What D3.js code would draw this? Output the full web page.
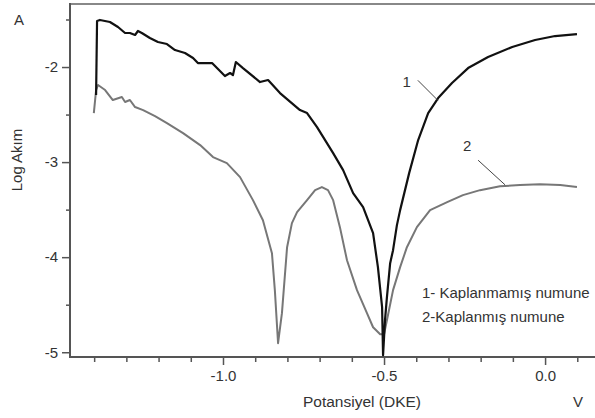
<!DOCTYPE html>
<html><head><meta charset="utf-8">
<script src="https://cdn.jsdelivr.net/npm/d3@7"></script>
<style>
html,body{margin:0;padding:0;background:#fff;}
svg{display:block;font-family:"Liberation Sans",Arial,sans-serif;}
</style></head>
<body>
<svg id="c" width="595" height="418"></svg>
<script>
// Potential (V vs DKE) and log current values
const curve1 = [
[-1.394,-2.295],[-1.391,-1.516],[-1.382,-1.505],[-1.351,-1.526],[-1.326,-1.579],[-1.304,-1.642],
[-1.289,-1.642],[-1.273,-1.663],[-1.264,-1.621],[-1.252,-1.642],[-1.227,-1.695],[-1.202,-1.737],
[-1.174,-1.758],[-1.149,-1.821],[-1.118,-1.853],[-1.093,-1.905],[-1.078,-1.958],[-1.034,-1.958],
[-0.994,-2.095],[-0.978,-2.063],[-0.969,-2.084],[-0.960,-1.947],[-0.938,-2.011],[-0.885,-2.158],
[-0.860,-2.137],[-0.823,-2.274],[-0.761,-2.453],[-0.739,-2.484],[-0.708,-2.632],[-0.658,-2.905],
[-0.627,-3.084],[-0.596,-3.326],[-0.565,-3.474],[-0.534,-3.747],[-0.519,-4.105],[-0.506,-4.526],
[-0.503,-5.032],[-0.497,-4.663],[-0.491,-4.421],[-0.481,-4.063],[-0.472,-3.926],[-0.460,-3.663],
[-0.450,-3.505],[-0.422,-3.116],[-0.394,-2.768],[-0.363,-2.484],[-0.332,-2.326],[-0.289,-2.168],
[-0.239,-2.011],[-0.177,-1.895],[-0.102,-1.789],[-0.031,-1.716],[0.031,-1.674],[0.099,-1.653]
];
const curve2 = [
[-1.401,-2.484],[-1.394,-2.242],[-1.388,-2.189],[-1.366,-2.242],[-1.342,-2.347],[-1.314,-2.316],
[-1.304,-2.368],[-1.289,-2.347],[-1.273,-2.421],[-1.248,-2.453],[-1.211,-2.516],[-1.174,-2.589],
[-1.124,-2.695],[-1.071,-2.821],[-1.031,-2.947],[-0.988,-3.011],[-0.947,-3.158],[-0.907,-3.400],
[-0.876,-3.611],[-0.848,-3.958],[-0.839,-4.347],[-0.829,-4.905],[-0.817,-4.589],[-0.801,-3.895],
[-0.786,-3.642],[-0.770,-3.526],[-0.739,-3.400],[-0.714,-3.295],[-0.693,-3.263],[-0.674,-3.295],
[-0.658,-3.400],[-0.637,-3.684],[-0.615,-4.032],[-0.584,-4.347],[-0.553,-4.589],[-0.534,-4.737],
[-0.512,-4.811],[-0.500,-4.811],[-0.491,-4.663],[-0.472,-4.347],[-0.450,-4.105],[-0.429,-3.895],
[-0.398,-3.684],[-0.357,-3.505],[-0.304,-3.421],[-0.255,-3.347],[-0.202,-3.295],[-0.140,-3.253],
[-0.078,-3.242],[-0.016,-3.232],[0.047,-3.242],[0.099,-3.263]
];
const xMajorTicks = [-1.0,-0.5,0.0];
const xMinorTicks = [-1.4,-1.3,-1.2,-1.1,-0.9,-0.8,-0.7,-0.6,-0.4,-0.3,-0.2,-0.1,0.1];
const yMajorTicks = [-2,-3,-4,-5];
const yMinorTicks = [-1.5,-2.5,-3.5,-4.5];
const legendLabels = ["1- Kaplanmamış numune","2-Kaplanmış numune"];
const curveLabels = ["1","2"];
const xTitle = "Potansiyel (DKE)", xUnit = "V", yTitle = "Log Akım", yUnit = "A";

const svg = d3.select("#c");
const x = d3.scaleLinear().domain([-1.475,0.155]).range([70,595]);
const y = d3.scaleLinear().domain([-5.05,-1.337]).range([357,4]);
const axisColor = "#555", textColor = "#333", fs = "15px";
const minus = s => s.replace("\u2212","-");

// top border
svg.append("line").attr("x1",70).attr("x2",595).attr("y1",y(-1.337)).attr("y2",y(-1.337))
  .attr("stroke","#888").attr("stroke-width",2);

function styleAxis(g){
  g.select(".domain").remove();
  g.selectAll("line").attr("stroke",axisColor).attr("stroke-width",1.5);
  g.selectAll("text").attr("fill",textColor).style("font-size",fs).style("font-family","Liberation Sans, Arial, sans-serif");
}
const gx = svg.append("g").attr("transform","translate(0,357)");
gx.append("g").call(d3.axisBottom(x).tickValues(xMinorTicks).tickSize(5).tickFormat(()=>"")).call(styleAxis);
gx.append("g").call(d3.axisBottom(x).tickValues(xMajorTicks).tickSize(8).tickPadding(5).tickFormat(d=>minus(d3.format(".1f")(d)))).call(styleAxis);
const gy = svg.append("g").attr("transform","translate(70,0)");
gy.append("g").call(d3.axisLeft(y).tickValues(yMinorTicks).tickSize(4).tickFormat(()=>"")).call(styleAxis);
gy.append("g").call(d3.axisLeft(y).tickValues(yMajorTicks).tickSize(8).tickPadding(4).tickFormat(d=>minus(String(d)))).call(styleAxis);

// axis lines
svg.append("line").attr("x1",70).attr("x2",595).attr("y1",357).attr("y2",357).attr("stroke",axisColor).attr("stroke-width",2);
svg.append("line").attr("x1",70).attr("x2",70).attr("y1",y(-1.337)-1).attr("y2",358).attr("stroke",axisColor).attr("stroke-width",2);

const line = d3.line().x(d=>x(d[0])).y(d=>y(d[1]));
svg.append("path").datum(curve2).attr("d",line).attr("fill","none").attr("stroke","#777").attr("stroke-width",2).attr("stroke-linejoin","round");
svg.append("path").datum(curve1).attr("d",line).attr("fill","none").attr("stroke","#111").attr("stroke-width",2.2).attr("stroke-linejoin","round");

// curve annotations
const ann = [
  {t:curveLabels[0], tx:-0.430, ty:-2.15, l:[[-0.395,-2.14],[-0.333,-2.35]]},
  {t:curveLabels[1], tx:-0.242, ty:-2.83, l:[[-0.208,-2.98],[-0.124,-3.24]]}
];
ann.forEach(a=>{
  svg.append("text").attr("x",x(a.tx)).attr("y",y(a.ty)).attr("dy","0.35em").attr("text-anchor","middle")
    .attr("fill",textColor).style("font-size",fs).text(a.t);
  svg.append("line").attr("x1",x(a.l[0][0])).attr("y1",y(a.l[0][1])).attr("x2",x(a.l[1][0])).attr("y2",y(a.l[1][1]))
    .attr("stroke","#444").attr("stroke-width",1);
});

// legend text
legendLabels.forEach((t,i)=>{
  svg.append("text").attr("x",422).attr("y",293+i*24).attr("dy","0.35em").attr("fill",textColor)
    .style("font-size","15px").text(t);
});

// titles
svg.append("text").attr("x",362).attr("y",402).attr("dy","0.35em").attr("text-anchor","middle").attr("fill",textColor).style("font-size","15.5px").text(xTitle);
svg.append("text").attr("x",578).attr("y",402).attr("dy","0.35em").attr("text-anchor","middle").attr("fill",textColor).style("font-size",fs).text(xUnit);
svg.append("text").attr("x",19).attr("y",20).attr("dy","0.35em").attr("text-anchor","middle").attr("fill",textColor).style("font-size",fs).text(yUnit);
svg.append("text").attr("transform","translate(17,160) rotate(-90)").attr("dy","0.35em").attr("text-anchor","middle").attr("fill",textColor).style("font-size",fs).text(yTitle);
</script>
</body></html>
